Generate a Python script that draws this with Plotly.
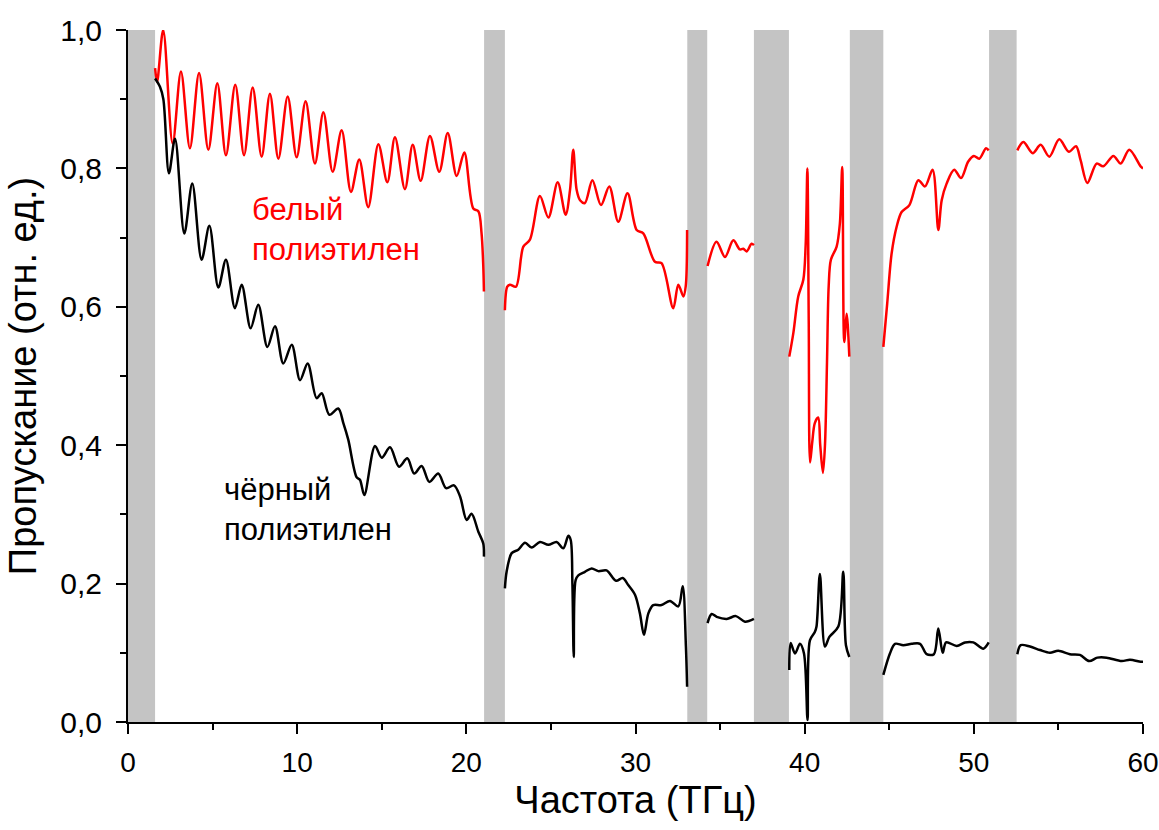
import plotly.graph_objects as go

# ---- data ----
# white polyethylene, segments separated by None (gaps at the gray bands)
white_x = [1.6, 1.72, 2.08, 2.64, 3.13, 3.66, 4.2, 4.75, 5.28, 5.79, 6.34, 6.86, 7.37, 7.9, 8.39, 8.89,
           9.44, 9.97, 10.5, 11.05, 11.55, 12.1, 12.63, 13.18, 13.67, 14.2, 14.8, 15.33, 15.78, 16.37,
           16.83, 17.3, 17.85, 18.4, 18.9, 19.43, 19.88, 20.41, 20.71, 20.9, 21.0, 21.04,
           None,
           22.28, 22.42, 22.58, 22.93, 23.37, 23.76, 24.35, 24.85, 25.4, 25.87, 26.13, 26.32, 26.52,
           26.72, 27.01, 27.45, 27.96, 28.45, 28.98, 29.53, 30.07, 30.46, 31.15, 31.54, 32.23, 32.53,
           32.83, 32.97, 33.05,
           None,
           34.26, 34.79, 35.29, 35.78, 36.17, 36.37, 36.57, 36.86, 37.0,
           None,
           39.09, 39.33, 39.62, 39.92, 40.06, 40.16, 40.24, 40.32, 40.45, 40.6, 40.8, 40.92, 41.08,
           41.2, 41.32, 41.42, 41.55, 41.89, 42.08, 42.22, 42.34, 42.48, 42.64,
           None,
           44.65, 44.88, 45.14, 45.44, 45.73, 46.19, 46.72, 47.11, 47.56, 47.9, 48.1, 48.39, 48.84,
           49.24, 49.67, 50.0, 50.32, 50.72, 50.88,
           None,
           52.57, 52.93, 53.48, 53.95, 54.46, 55.05, 55.62, 56.04, 56.31, 56.71, 57.26, 57.65, 58.25,
           58.68, 59.19, 59.86, 60.0]
white_y = [0.945, 0.925, 1.0, 0.836, 0.94, 0.829, 0.938, 0.827, 0.923, 0.819, 0.921, 0.819, 0.917,
           0.817, 0.908, 0.814, 0.904, 0.816, 0.897, 0.807, 0.881, 0.795, 0.855, 0.766, 0.813, 0.744,
           0.835, 0.780, 0.845, 0.770, 0.834, 0.782, 0.847, 0.795, 0.851, 0.789, 0.823, 0.742, 0.738,
           0.706, 0.660, 0.622,
           None,
           0.595, 0.629, 0.632, 0.629, 0.687, 0.697, 0.760, 0.729, 0.780, 0.733, 0.769, 0.827, 0.769,
           0.754, 0.750, 0.783, 0.747, 0.774, 0.723, 0.764, 0.711, 0.706, 0.665, 0.663, 0.598, 0.632,
           0.615, 0.630, 0.711,
           None,
           0.659, 0.694, 0.672, 0.696, 0.683, 0.684, 0.680, 0.691, 0.689,
           None,
           0.528, 0.562, 0.615, 0.639, 0.690, 0.800, 0.580, 0.375, 0.405, 0.432, 0.440, 0.400, 0.360,
           0.400, 0.520, 0.630, 0.668, 0.687, 0.720, 0.802, 0.549, 0.590, 0.528,
           None,
           0.542, 0.605, 0.677, 0.716, 0.737, 0.747, 0.783, 0.774, 0.798, 0.711, 0.754, 0.778, 0.798,
           0.786, 0.810, 0.818, 0.814, 0.829, 0.826,
           None,
           0.826, 0.838, 0.822, 0.834, 0.817, 0.842, 0.824, 0.832, 0.812, 0.779, 0.807, 0.803, 0.818,
           0.807, 0.827, 0.803, 0.800]

# black polyethylene
black_x = [1.6, 1.89, 2.09, 2.42, 2.78, 3.33, 3.8, 4.35, 4.81, 5.34, 5.79, 6.32, 6.72, 7.25, 7.7, 8.24,
           8.69, 9.18, 9.68, 10.17, 10.62, 11.15, 11.45, 11.9, 12.43, 12.73, 13.02, 13.51, 13.71, 13.97,
           14.6, 15.0, 15.49, 16.02, 16.51, 16.92, 17.36, 17.81, 18.34, 18.8, 19.27, 19.63, 20.02,
           20.31, 20.71, 21.0, 21.04,
           None,
           22.28, 22.38, 22.68, 23.07, 23.47, 23.86, 24.35, 24.85, 25.34, 25.73, 26.03, 26.17, 26.27,
           26.35, 26.46, 26.62, 27.01, 27.41, 27.8, 28.29, 28.85, 29.24, 29.57, 29.97, 30.26, 30.5,
           30.76, 31.05, 31.54, 32.04, 32.53, 32.79, 32.98, 33.05,
           None,
           34.26, 34.5, 34.8, 35.39, 35.94, 36.47, 37.0,
           None,
           39.09, 39.17, 39.43, 39.72, 39.96, 40.17, 40.31, 40.6, 40.7, 40.9, 41.2, 41.46, 41.99,
           42.28, 42.44, 42.64,
           None,
           44.65, 45.04, 45.34, 45.83, 46.33, 46.82, 47.21, 47.64, 47.9, 48.16, 48.36, 48.99, 49.48,
           49.97, 50.56, 50.88,
           None,
           52.57, 52.77, 53.32, 53.91, 54.5, 54.99, 55.68, 56.27, 56.82, 57.3, 57.85, 58.74, 59.23,
           59.86, 60.0]
black_y = [0.930, 0.918, 0.900, 0.793, 0.843, 0.706, 0.778, 0.668, 0.717, 0.628, 0.668, 0.598, 0.632,
           0.569, 0.603, 0.542, 0.572, 0.518, 0.545, 0.494, 0.518, 0.468, 0.475, 0.444, 0.453, 0.432,
           0.408, 0.354, 0.350, 0.328, 0.399, 0.382, 0.397, 0.369, 0.381, 0.359, 0.370, 0.347, 0.359,
           0.338, 0.342, 0.326, 0.292, 0.301, 0.275, 0.258, 0.239,
           None,
           0.193, 0.217, 0.244, 0.249, 0.259, 0.252, 0.260, 0.256, 0.260, 0.251, 0.269, 0.263, 0.200,
           0.094, 0.205, 0.212, 0.217, 0.222, 0.218, 0.219, 0.204, 0.208, 0.198, 0.184, 0.157, 0.126,
           0.157, 0.169, 0.169, 0.175, 0.167, 0.196, 0.109, 0.051,
           None,
           0.143, 0.156, 0.152, 0.149, 0.153, 0.145, 0.149,
           None,
           0.075, 0.114, 0.099, 0.113, 0.099, 0.003, 0.118, 0.130, 0.138, 0.214, 0.109, 0.123, 0.138,
           0.217, 0.111, 0.094,
           None,
           0.068, 0.099, 0.113, 0.111, 0.113, 0.113, 0.098, 0.098, 0.135, 0.100, 0.115, 0.110, 0.115,
           0.115, 0.106, 0.115,
           None,
           0.098, 0.111, 0.109, 0.104, 0.100, 0.103, 0.098, 0.097, 0.088, 0.093, 0.093, 0.088, 0.090,
           0.087, 0.087]

# gray absorption bands (start, end) in THz
band_start = [0.0, 21.05, 33.06, 37.0, 42.67, 50.9]
band_end = [1.6, 22.28, 34.24, 39.07, 44.65, 52.53]

x_ticks = [0, 10, 20, 30, 40, 50, 60]
y_ticks = [0.0, 0.2, 0.4, 0.6, 0.8, 1.0]

FONT = "Liberation Sans, Arial, sans-serif"

fig = go.Figure()

for s, e in zip(band_start, band_end):
    fig.add_shape(type="rect", xref="x", yref="y", x0=s, x1=e, y0=0, y1=1,
                  fillcolor="#c4c4c4", line=dict(width=0), layer="below")

fig.add_trace(go.Scatter(x=white_x, y=white_y, mode="lines", connectgaps=False,
                         line=dict(color="#ff0000", width=2.5, shape="spline", smoothing=0.9),
                         showlegend=False, hoverinfo="skip"))
fig.add_trace(go.Scatter(x=black_x, y=black_y, mode="lines", connectgaps=False,
                         line=dict(color="#000000", width=2.5, shape="spline", smoothing=0.9),
                         showlegend=False, hoverinfo="skip"))

fig.add_annotation(x=7.2, y=0.711, xref="x", yref="y", text="белый<br>полиэтилен",
                   showarrow=False, xanchor="left", yanchor="middle", align="left",
                   font=dict(family=FONT, size=31, color="#ff0000"))
fig.add_annotation(x=5.55, y=0.307, xref="x", yref="y", text="чёрный<br>полиэтилен",
                   showarrow=False, xanchor="left", yanchor="middle", align="left",
                   font=dict(family=FONT, size=31, color="#000000"))

fig.update_layout(
    width=1159, height=830,
    margin=dict(l=128, r=16, t=30, b=108, autoexpand=False),
    paper_bgcolor="white", plot_bgcolor="white",
    separators=", ",
    xaxis=dict(range=[0, 60], tickvals=x_ticks, ticks="outside", ticklen=10, tickwidth=2,
               tickcolor="black", showline=True, linecolor="black", linewidth=2,
               showgrid=False, zeroline=False, mirror=False, automargin=False,
               tickfont=dict(family=FONT, size=28, color="black"), ticklabelstandoff=4,
               ticklabeloverflow="allow",
               minor=dict(dtick=5, ticks="outside", ticklen=6, tickwidth=2, tickcolor="black"),
               title=dict(text="Частота (ТГц)", font=dict(family=FONT, size=38, color="black"),
                          standoff=10)),
    yaxis=dict(range=[0, 1.0], tickvals=y_ticks, tickformat=".1f", ticks="outside", ticklen=10,
               tickwidth=2, tickcolor="black", showline=True, linecolor="black", linewidth=2,
               showgrid=False, zeroline=False, mirror=False, automargin=False,
               tickfont=dict(family=FONT, size=30, color="black"), ticklabelstandoff=8,
               ticklabeloverflow="allow",
               minor=dict(dtick=0.1, ticks="outside", ticklen=6, tickwidth=2, tickcolor="black"),
               title=dict(text="Пропускание (отн. ед.)", font=dict(family=FONT, size=38, color="black"),
                          standoff=12)),
)

fig.write_html("out.html")
